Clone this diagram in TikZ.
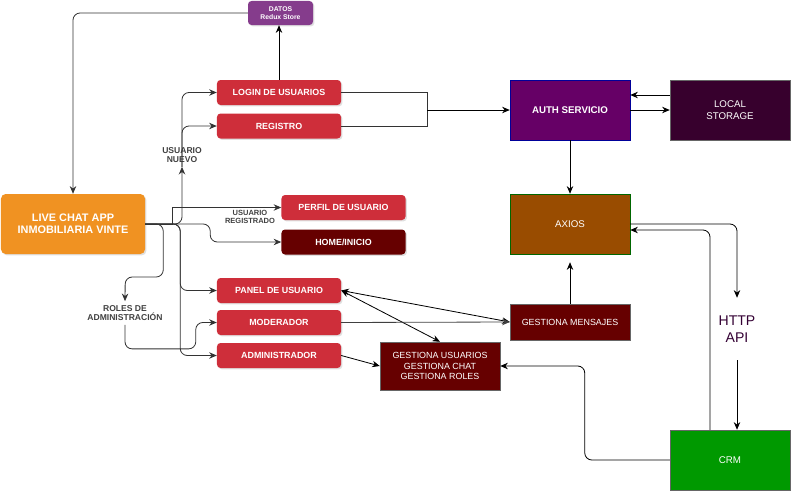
\documentclass[tikz,border=0pt]{standalone}
\usepackage{fontspec}
\setmainfont{Liberation Sans}
\usetikzlibrary{arrows.meta,shadows,calc}

\definecolor{appred}{RGB}{206,46,58}
\definecolor{appdark}{RGB}{102,0,0}
\definecolor{apporange}{RGB}{240,146,34}
\definecolor{datapurple}{RGB}{133,60,140}
\definecolor{authpurple}{RGB}{102,0,102}
\definecolor{storedark}{RGB}{55,0,45}
\definecolor{axiosbrown}{RGB}{153,76,0}
\definecolor{crmgreen}{RGB}{0,153,0}
\definecolor{httppurple}{RGB}{51,0,51}

\begin{document}
\begin{tikzpicture}[x=0.03cm, y=-0.03cm,
shade/.style={drop shadow={shadow xshift=1.2pt, shadow yshift=-1.2pt, opacity=.25}},
rednode/.style={rectangle, rounded corners=3pt, fill=appred, text=white, shade, minimum width=3.72cm, minimum height=0.75cm, font=\fontsize{7.6}{9}\selectfont\bfseries},
darkrounded/.style={rednode, fill=appdark},
boxnode/.style={rectangle, draw=black!60, text=white, shade, minimum width=3.6cm, minimum height=1.8cm, align=center, font=\fontsize{8.3}{10}\selectfont},
darkbox/.style={boxnode, fill=appdark, minimum height=1.08cm, font=\fontsize{7.6}{9}\selectfont},
tag/.style={text=black!75, align=center, font=\fontsize{7.3}{8}\selectfont\bfseries},
gline/.style={draw=black!80, line width=0.7pt, rounded corners=6pt, -{Stealth[length=6.5pt,width=5.5pt]}},
bline/.style={draw=black, line width=0.7pt, -{Stealth[length=6.5pt,width=5.5pt]}},
twoway/.style={draw=black, line width=0.7pt, {Stealth[length=6.5pt,width=5.5pt]}-{Stealth[length=6.5pt,width=5.5pt]}}
]
\useasboundingbox (0,0) rectangle (803,503);

%Nodes
\node[rectangle, rounded corners=3pt, fill=datapurple, text=white, shade, minimum width=1.95cm, minimum height=0.72cm, align=center, font=\fontsize{5.8}{7}\selectfont\bfseries] (datos) at (280.5,13) {DATOS\\Redux Store};
\node[rednode] (login) at (279,92.5) {LOGIN DE USUARIOS};
\node[rednode] (registro) at (279,126) {REGISTRO};
\node[rectangle, rounded corners=4pt, fill=apporange, text=white, shade, minimum width=4.32cm, minimum height=1.8cm, align=center, font=\fontsize{9.3}{10.5}\selectfont\bfseries] (live) at (73,224) {LIVE CHAT APP\\INMOBILIARIA VINTE};
\node[rednode] (perfil) at (343.5,207.5) {PERFIL DE USUARIO};
\node[darkrounded] (home) at (343.5,242) {HOME/INICIO};
\node[rednode] (panel) at (279,290.5) {PANEL DE USUARIO};
\node[rednode] (moder) at (279,322.5) {MODERADOR};
\node[rednode] (admin) at (279,355.5) {ADMINISTRADOR};
\node[darkbox, minimum height=1.44cm] (gestu) at (440,366) {GESTIONA USUARIOS\\GESTIONA CHAT\\GESTIONA ROLES};
\node[boxnode, draw=blue!60!black, fill=authpurple, font=\fontsize{8.3}{10}\selectfont\bfseries] (auth) at (570,110) {AUTH SERVICIO};
\node[boxnode, fill=storedark] (local) at (730,110) {LOCAL\\STORAGE};
\node[boxnode, draw=green!40!black, fill=axiosbrown] (axios) at (570,224) {AXIOS};
\node[darkbox] (mensajes) at (570,322) {GESTIONA MENSAJES};
\node[boxnode, fill=crmgreen] (crm) at (730,460) {CRM};
\node[text=httppurple, align=center, minimum height=1.86cm, font=\fontsize{12}{14}\selectfont] (http) at (737,329) {HTTP\\API};

\node[tag] (nuevo) at (182,155) {USUARIO\\NUEVO};
\node[tag, font=\fontsize{6.4}{7.5}\selectfont\bfseries] (registrado) at (250,217) {USUARIO\\REGISTRADO};
\node[tag] (roles) at (125,313) {ROLES DE\\ADMINISTRACIÓN};
\coordinate (join) at (427,110);

%Lines
\draw[gline] (datos.west) -| (live.north);
\draw[bline] (login.north) -- (login.north |- datos.south);
\draw[gline] (live.east) -| (nuevo.south);
\draw[gline] (nuevo.south) |- (login.west);
\draw[gline] (nuevo.south) |- (registro.west);
\draw[gline, rounded corners=0pt] (live.east) -- ++(27,0) |- (perfil.west);
\draw[gline] (live.east) -- ++(65,0) |- (home.west);
\draw[gline] (live.east) -- ++(18,0) |- ++(-38,53) -- (roles.north);
\draw[gline] (roles.south) -- ++(0,24) -| ($(moder.west)+(-21,0)$) -- (moder.west);
\draw[gline] (live.east) -- ++(35,0) |- (panel.west);
\draw[gline] (live.east) -- ++(35,0) |- (admin.west);

\draw[draw=black!80, line width=0.7pt] (login.east) -| (join);
\draw[draw=black!80, line width=0.7pt] (registro.east) -| (join);
\draw[bline] (join) -- (auth.west);
\draw[bline] ($(local.west)+(0,-15)$) coordinate (ls) -- (ls -| auth.east);
\draw[bline] (auth.east) -- (local.west);
\draw[bline] (auth.south) -- (axios.north);
\draw[bline] (mensajes.north) -- ($(axios.south)+(0,8)$);
\draw[bline, rounded corners=6pt] (axios.east) -| (http.north);
\draw[bline] (http.south) -- (http.south |- crm.north);
\draw[bline, rounded corners=6pt] ($(crm.north)+(-20,0)$) |- ($(axios.east)+(0,6)$);
\draw[bline, rounded corners=6pt] (crm.west) -- ++(-85,0) |- (gestu.east);

\draw[twoway] (panel.east) -- (mensajes.west);
\draw[twoway] (panel.east) -- (gestu.north);
\draw[bline, draw=black!75] (moder.east) -- (mensajes.west);
\draw[bline] (admin.east) -- (gestu.west);

\end{tikzpicture}
\end{document}
